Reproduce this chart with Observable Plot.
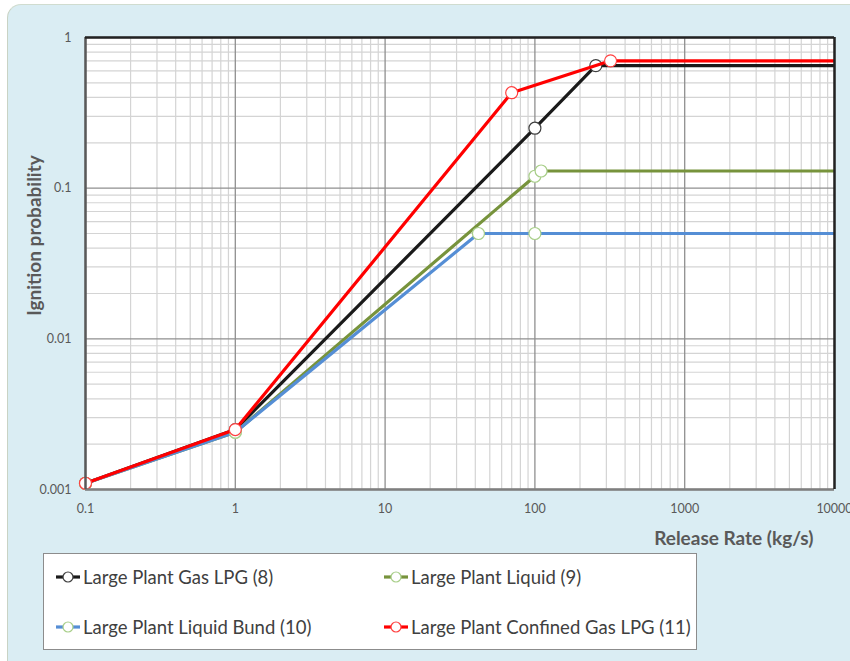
<!DOCTYPE html>
<html>
<head>
<meta charset="utf-8">
<script src="https://cdn.jsdelivr.net/npm/d3@7"></script>
<script src="https://cdn.jsdelivr.net/npm/@observablehq/plot@0.6"></script>
<style>
  html, body { margin: 0; padding: 0; background: #ffffff; }
  body { width: 850px; height: 661px; overflow: hidden; position: relative; font-family: Lato, "Open Sans", sans-serif; }
  #panel { position: absolute; left: 7px; top: 4px; width: 860px; height: 670px; background: #daedf3;
           border-top-left-radius: 14px; border-left: 1px solid #c9d3c4; border-top: 1px solid #d0dccf; }
  #chart { position: absolute; left: 0; top: 0; }
  #legend { position: absolute; left: 43px; top: 553px; width: 652px; height: 95px; background: #ffffff;
            border: 1px solid #8c8c8c; }
  .item { position: absolute; display: flex; align-items: center; font-size: 18.5px; color: #404040; white-space: nowrap; }
  .item svg { margin-right: 2px; }
</style>
</head>
<body>
<div id="panel"></div>
<div id="chart"></div>
<div id="legend"></div>
<script>
// ---- data ----
const seriesNames = ["Large Plant Gas LPG (8)", "Large Plant Liquid (9)", "Large Plant Liquid Bund (10)", "Large Plant Confined Gas LPG (11)"];
const lineColors = ["#1a1a1a", "#77933c", "#558ed5", "#ff0000"];
const markerStrokes = ["#404040", "#a9cf8a", "#a9cf8a", "#ff4040"];

const gasX = [0.1, 1, 100, 255, 10000];
const gasY = [0.0011, 0.0025, 0.25, 0.65, 0.65];
const liquidX = [0.1, 1, 100, 110, 10000];
const liquidY = [0.0011, 0.0024, 0.12, 0.13, 0.13];
const bundX = [0.1, 1, 42, 100, 10000];
const bundY = [0.0011, 0.0024, 0.05, 0.05, 0.05];
const confX = [0.1, 1, 70, 320, 10000];
const confY = [0.0011, 0.0025, 0.43, 0.7, 0.7];

const xMajor = [0.1, 1, 10, 100, 1000, 10000];
const yMajor = [0.001, 0.01, 0.1, 1];
const minorMult = [2, 3, 4, 5, 6, 7, 8, 9];
const xMinor = xMajor.slice(0, -1).flatMap(d => minorMult.map(m => +(d * m).toPrecision(3)));
const yMinor = yMajor.slice(0, -1).flatMap(d => minorMult.map(m => +(d * m).toPrecision(3)));

const xLabel = "Release Rate (kg/s)";
const yLabel = "Ignition probability";

// ---- build ----
const allX = [gasX, liquidX, bundX, confX];
const allY = [gasY, liquidY, bundY, confY];
const series = seriesNames.map((name, i) => allX[i].map((x, j) => ({name, x, y: allY[i][j], idx: j, n: allX[i].length})));

// draw order: Excel series order 8, 9, 10, 11
const marks = [
  Plot.frame({fill: "white"}),
  Plot.ruleX(xMinor, {stroke: "#d4d4d4", strokeWidth: 1.2}),
  Plot.ruleY(yMinor, {stroke: "#d4d4d4", strokeWidth: 1.2}),
  Plot.ruleX(xMajor, {stroke: "#8f8f8f", strokeWidth: 1.3}),
  Plot.ruleY(yMajor, {stroke: "#8f8f8f", strokeWidth: 1.3}),
];
series.forEach((s, i) => {
  marks.push(Plot.line(s, {x: "x", y: "y", stroke: lineColors[i], strokeWidth: 3.2, clip: true}));
  marks.push(Plot.dot(s.filter(d => d.idx < d.n - 1), {x: "x", y: "y", r: 6, fill: "white", stroke: markerStrokes[i], strokeWidth: 1.2}));
});
marks.push(
  Plot.ruleY([0.001], {stroke: "#7f7f7f", strokeWidth: 2.5}),
  Plot.ruleX([0.1], {stroke: "#595959", strokeWidth: 2.5}),
  Plot.ruleY([1], {stroke: "#222", strokeWidth: 2.5}),
  Plot.ruleX([10000], {stroke: "#222", strokeWidth: 2.5}),
  Plot.axisX(xMajor, {tickSize: 0, tickPadding: 15, tickFormat: d => String(d), fontSize: 12.5, fill: "#595959", label: null}),
  Plot.axisY(yMajor, {tickSize: 0, tickPadding: 14, tickFormat: d => String(d), fontSize: 12.5, fill: "#595959", label: null}),
  Plot.text([xLabel], {frameAnchor: "bottom-right", dx: -21, dy: 55, text: d => d, fontSize: 19, fontWeight: "bold", fill: "#595959", textAnchor: "end"}),
  Plot.text([yLabel], {frameAnchor: "left", dx: -51, dy: -28, text: d => d, fontSize: 19, fontWeight: "bold", fill: "#595959", textAnchor: "middle", rotate: -90})
);

const chart = Plot.plot({
  width: 850,
  height: 549,
  marginLeft: 85,
  marginRight: 16,
  marginTop: 37,
  marginBottom: 60,
  style: {background: "transparent", fontFamily: "Lato, 'Open Sans', sans-serif", overflow: "visible"},
  x: {type: "log", domain: [0.1, 10000]},
  y: {type: "log", domain: [0.001, 1]},
  marks
});
document.getElementById("chart").appendChild(chart);

// ---- legend ----
const legend = document.getElementById("legend");
const positions = [[11, 12], [339, 12], [11, 62], [339, 62]];
seriesNames.forEach((name, i) => {
  const item = document.createElement("div");
  item.className = "item";
  item.style.left = positions[i][0] + "px";
  item.style.top = positions[i][1] + "px";
  item.innerHTML = `<svg width="26" height="14"><line x1="1" x2="25" y1="7" y2="7" stroke="${lineColors[i]}" stroke-width="3.2"/>` +
    `<circle cx="13" cy="7" r="5" fill="white" stroke="${markerStrokes[i]}" stroke-width="1.2"/></svg><span>${name}</span>`;
  legend.appendChild(item);
});
</script>
</body>
</html>
